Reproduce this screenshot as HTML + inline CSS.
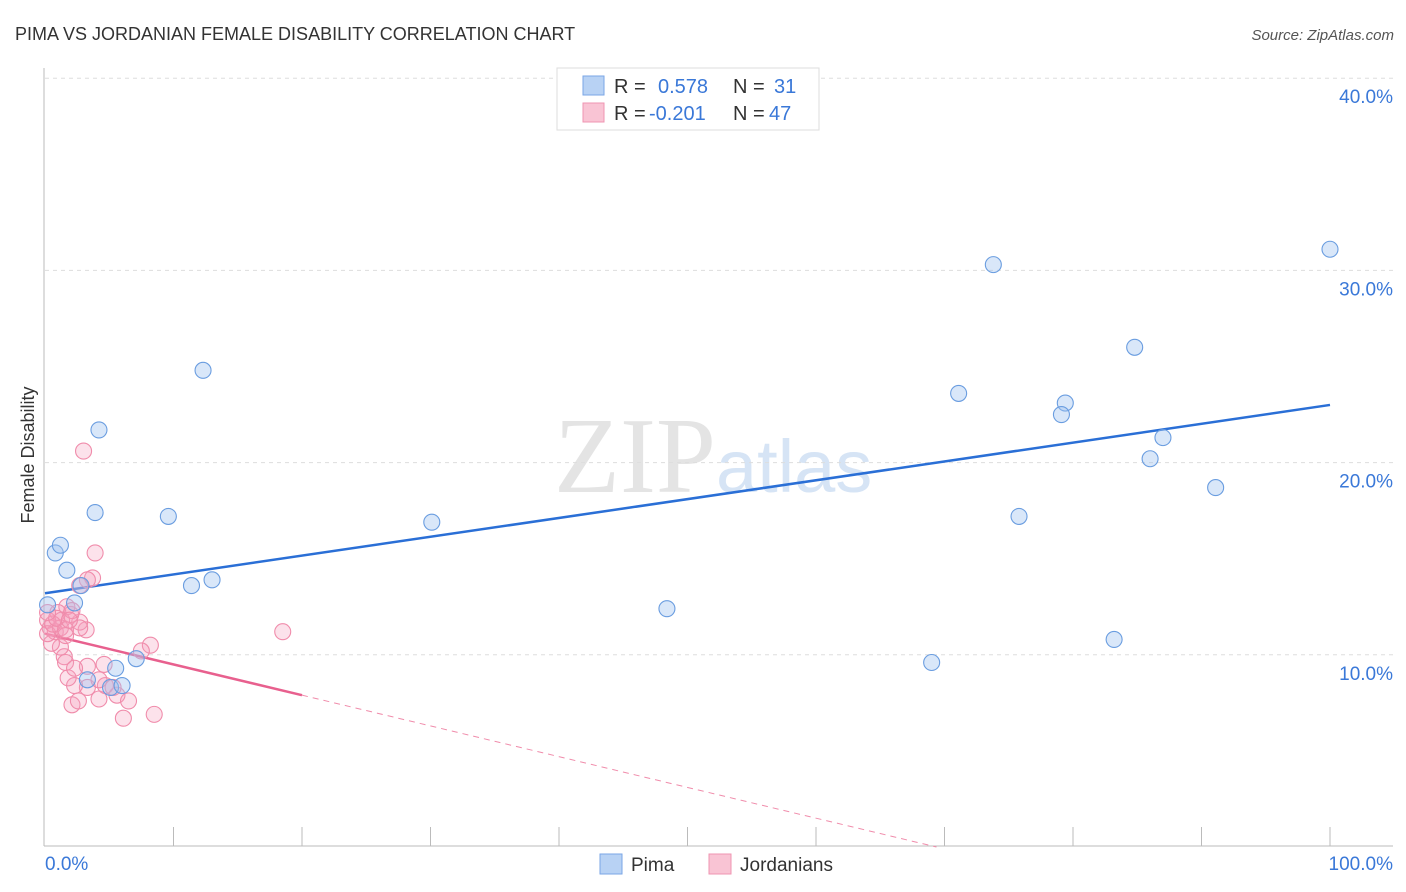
<!DOCTYPE html>
<html><head><meta charset="utf-8"><style>
body{margin:0;background:#fff;font-family:"Liberation Sans",sans-serif;}
svg{display:block}
</style></head><body>
<svg id="chart" width="1406" height="892">
<text x="15" y="40" font-size="18" fill="#333">PIMA VS JORDANIAN FEMALE DISABILITY CORRELATION CHART</text>
<text x="1394" y="40" font-size="15" fill="#555" font-style="italic" text-anchor="end">Source: ZipAtlas.com</text>
<text x="716" y="492" font-size="108" fill="#e4e4e4" font-family="Liberation Serif,serif" text-anchor="end">ZIP</text>
<text x="716" y="492" font-size="74" fill="#d6e4f5" text-anchor="start">atlas</text>
<text transform="translate(34,455) rotate(-90)" font-size="18" fill="#333" text-anchor="middle">Female Disability</text>
<g id="grid"></g><g id="axes"></g><g id="lines"></g><g id="pts"></g>
<g>
<rect x="557" y="68" width="262" height="62" fill="#fff" stroke="#ddd"/>
<rect x="583" y="76" width="21" height="19" fill="#b8d2f4" stroke="#7aa6e6"/>
<rect x="583" y="103" width="21" height="19" fill="#f9c4d4" stroke="#ef94b2"/>
<text x="614" y="93" font-size="20" fill="#333">R = </text><text x="658" y="93" font-size="20" fill="#3a78d8">0.578</text>
<text x="733" y="93" font-size="20" fill="#333">N = </text><text x="774" y="93" font-size="20" fill="#3a78d8">31</text>
<text x="614" y="120" font-size="20" fill="#333">R = </text><text x="649" y="120" font-size="20" fill="#3a78d8">-0.201</text>
<text x="733" y="120" font-size="20" fill="#333">N = </text><text x="769" y="120" font-size="20" fill="#3a78d8">47</text>
</g>
<g>
<rect x="600" y="854" width="22" height="20" fill="#b8d2f4" stroke="#7aa6e6"/>
<text x="631" y="871" font-size="19" fill="#333">Pima</text>
<rect x="709" y="854" width="22" height="20" fill="#f9c4d4" stroke="#ef94b2"/>
<text x="740" y="871" font-size="19" fill="#333">Jordanians</text>
</g>
</svg>
<script>
const yTicks=[10,20,30,40];
const xTickLabels=["0.0%","100.0%"];
const pimaX=[0.8,1.2,1.7,2.8,2.3,3.9,4.2,5.5,5.1,6.0,7.1,9.6,11.4,12.3,13.0,30.1,48.4,69.0,73.8,71.1,75.8,79.4,79.1,83.2,84.8,86.0,87.0,91.1,100,0.2,3.3];
const pimaY=[15.3,15.7,14.4,13.6,12.7,17.4,21.7,9.3,8.3,8.4,9.8,17.2,13.6,24.8,13.9,16.9,12.4,9.6,30.3,23.6,17.2,23.1,22.5,10.8,26.0,20.2,21.3,18.7,31.1,12.6,8.7];
const jorX=[3.0,3.9,3.7,3.3,2.7,18.5,8.2,7.5,8.5,6.1,2.1,2.6,4.2,5.6,4.7,3.3,2.3,1.8,1.5,1.6,3.3,2.3,4.6,1.2,0.5,3.2,2.7,2.0,1.7,1.0,1.3,0.4,0.8,0.2,0.2,1.2,1.6,0.6,0.9,1.6,2.1,2.7,5.3,6.5,4.2,0.2,1.9];
const jorY=[20.6,15.3,14.0,13.9,13.6,11.2,10.5,10.2,6.9,6.7,7.4,7.6,7.7,7.9,8.4,8.3,8.4,8.8,9.9,9.6,9.4,9.3,9.5,10.4,10.6,11.3,11.7,12.1,12.5,12.2,11.8,11.4,11.2,11.8,11.1,11.4,11.0,11.6,11.9,11.3,12.3,11.4,8.3,7.6,8.7,12.2,11.8];
const pimaTrend=[13.2,23.0];
const jorTrend=[11.1,7.9];
const NS="http://www.w3.org/2000/svg";
const X=v=>45+v*12.85, Y=v=>847-v*19.22;
function mk(tag,parent,attrs){const e=document.createElementNS(NS,tag);for(const k in attrs)e.setAttribute(k,attrs[k]);document.getElementById(parent).appendChild(e);return e;}
yTicks.forEach(t=>{
 const l=mk('line','grid',{x1:45,x2:1393,y1:Y(t),y2:Y(t),stroke:'#ddd','stroke-dasharray':'4,4'});
 
 
 const tx=mk('text','grid',{x:1393,y:Y(t)+25,'font-size':19,fill:'#3a78d8','text-anchor':'end'});
 tx.textContent=t.toFixed(1)+'%';
 
 
});
mk('line','axes',{x1:44,x2:44,y1:68,y2:846,stroke:'#bbb'});
mk('line','axes',{x1:44,x2:1393,y1:846,y2:846,stroke:'#bbb'});
for(let i=1;i<=10;i++){mk('line','axes',{x1:X(i*10),x2:X(i*10),y1:827,y2:846,stroke:'#bbb'});}
const xl0=mk('text','axes',{x:45,y:870,'font-size':19,fill:'#3a78d8'});xl0.textContent=xTickLabels[0];


const xl1=mk('text','axes',{x:1393,y:870,'font-size':19,fill:'#3a78d8','text-anchor':'end'});xl1.textContent=xTickLabels[1];


jorX.forEach((x,i)=>{const c=mk('circle','pts',{cx:X(x),cy:Y(jorY[i]),r:8,fill:'rgba(246,160,188,0.3)',stroke:'#f08cab','stroke-width':1.1});
 
 });
pimaX.forEach((x,i)=>{const c=mk('circle','pts',{cx:X(x),cy:Y(pimaY[i]),r:8,fill:'rgba(160,196,240,0.4)',stroke:'#6a9de0','stroke-width':1.1});
 
 });
const pl=mk('line','lines',{x1:X(0),y1:Y(pimaTrend[0]),x2:X(100),y2:Y(pimaTrend[1]),stroke:'#2a6fd6','stroke-width':2.5});


const js=(jorTrend[1]-jorTrend[0])/20;
const jl=mk('line','lines',{x1:X(0),y1:Y(jorTrend[0]),x2:X(20),y2:Y(jorTrend[1]),stroke:'#e8608e','stroke-width':2.5});


const xe=-jorTrend[0]/js;
const jd=mk('line','lines',{x1:X(20),y1:Y(jorTrend[1]),x2:X(xe),y2:Y(0),stroke:'#f08cab','stroke-width':1,'stroke-dasharray':'6,5'});


</script>
</body></html>
